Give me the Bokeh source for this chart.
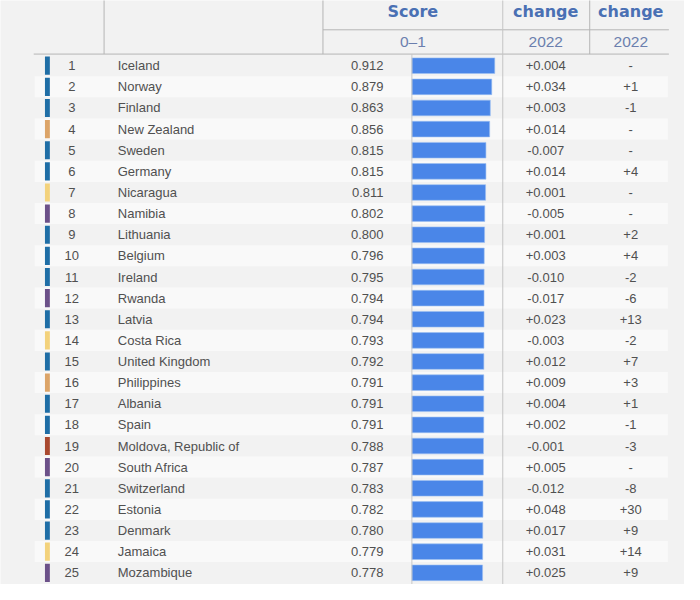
from bokeh.plotting import figure
from bokeh.models import Range1d, ColumnDataSource
from bokeh.core.properties import value
from bokeh.embed import file_html
from bokeh.resources import INLINE

# ---- data ----
ranks = list(range(1, 26))
countries = ["Iceland", "Norway", "Finland", "New Zealand", "Sweden", "Germany",
             "Nicaragua", "Namibia", "Lithuania", "Belgium", "Ireland", "Rwanda",
             "Latvia", "Costa Rica", "United Kingdom", "Philippines", "Albania",
             "Spain", "Moldova, Republic of", "South Africa", "Switzerland",
             "Estonia", "Denmark", "Jamaica", "Mozambique"]
scores = [0.912, 0.879, 0.863, 0.856, 0.815, 0.815, 0.811, 0.802, 0.800, 0.796,
          0.795, 0.794, 0.794, 0.793, 0.792, 0.791, 0.791, 0.791, 0.788, 0.787,
          0.783, 0.782, 0.780, 0.779, 0.778]
score_change = ["+0.004", "+0.034", "+0.003", "+0.014", "-0.007", "+0.014",
                "+0.001", "-0.005", "+0.001", "+0.003", "-0.010", "-0.017",
                "+0.023", "-0.003", "+0.012", "+0.009", "+0.004", "+0.002",
                "-0.001", "+0.005", "-0.012", "+0.048", "+0.017", "+0.031",
                "+0.025"]
rank_change = ["-", "+1", "-1", "-", "-", "+4", "-", "-", "+2", "+4", "-2", "-6",
               "+13", "-2", "+7", "+3", "+1", "-1", "-3", "-", "-8", "+30", "+9",
               "+14", "+9"]
regions = ["EU", "EU", "EU", "EAP", "EU", "EU", "LAC", "SSA", "EU", "EU", "EU",
           "SSA", "EU", "LAC", "EU", "EAP", "EU", "EU", "ECA", "SSA", "EU", "EU",
           "EU", "LAC", "SSA"]
region_colors = {"EU": "#1f6ea6", "EAP": "#dca468", "LAC": "#f3d27c",
                 "SSA": "#6c5189", "ECA": "#a9492f"}
header_top = ["Score", "change", "change"]
header_sub = ["0\u20131", "2022", "2022"]

# ---- layout: x in column units (0..700), y in rank units ----
W, H = 684, 584
FONT = "Liberation Sans"
p = figure(width=W, height=H, output_backend="svg", toolbar_location=None,
           x_range=Range1d(0, 700), y_range=Range1d(25.553, -2.086),
           background_fill_color="#f2f2f2", border_fill_color="#f2f2f2",
           min_border=0, outline_line_color=None)
p.xaxis.visible = False
p.yaxis.visible = False
p.xgrid.visible = False
p.ygrid.visible = False

bar_x0, bar_px = 421, 93.0
p.extra_x_ranges = {"score": Range1d((0 - bar_x0) / bar_px, (700 - bar_x0) / bar_px)}

src = ColumnDataSource(dict(
    rank=ranks, rank_s=[str(r) for r in ranks], country=countries, score=scores,
    score_s=["%.3f" % s for s in scores], dchg=score_change, rchg=rank_change,
    color=[region_colors[r] for r in regions],
    stripe=["#f9f9f9" if r % 2 == 0 else "#f2f2f2" for r in ranks],
))

# row stripes
p.hbar(y="rank", left=35, right=683, height=1.0, fill_color="stripe",
       line_color=None, source=src)

# header lines
p.segment(x0=[330, 34], y0=[-0.70, 0.45], x1=[684, 684], y1=[-0.70, 0.45],
          line_color="#b5b5b5", line_width=1)
p.segment(x0=[106, 330, 603], y0=[-2.2, -2.2, -2.2], x1=[106, 330, 603],
          y1=[0.45, 0.45, 0.45], line_color="#b5b5b5", line_width=1)
p.segment(x0=[514], y0=[-2.2], x1=[514], y1=[25.6], line_color="#c4c4c4",
          line_width=1)

# region markers
p.rect(x=48, y="rank", width=5, height=0.86, fill_color="color",
       line_color=None, source=src)

# bars
p.hbar(y="rank", left=0, right="score", height=0.74, fill_color="#4a86e8",
       line_color="#9cc0f2", line_width=0.6, source=src, x_range_name="score")
p.segment(x0=[bar_x0], y0=[0.45], x1=[bar_x0], y1=[25.6], line_color="#c8c8c8",
          line_width=1)

txt = dict(text_font=value(FONT), text_font_size="13px", text_color="#505050",
           text_baseline="middle", source=src)
p.text(x=73, y="rank", text="rank_s", text_align="center", **txt)
p.text(x=120, y="rank", text="country", text_align="left", **txt)
p.text(x=392, y="rank", text="score_s", text_align="right", **txt)
p.text(x=558, y="rank", text="dchg", text_align="center", **txt)
p.text(x=645, y="rank", text="rchg", text_align="center", **txt)

# headers
p.text(x=[422, 558, 645], y=[-1.55] * 3, text=header_top, text_align="center",
       text_baseline="middle", text_font=value("DejaVu Sans"), text_font_size="16px",
       text_font_style="bold", text_color="#4a70b4")
p.text(x=[422, 558, 645], y=[-0.14] * 3, text=header_sub, text_align="center",
       text_baseline="middle", text_font=value(FONT), text_font_size="15.5px",
       text_color="#6b7fae")

open("out.html", "w").write(file_html(p, INLINE))
